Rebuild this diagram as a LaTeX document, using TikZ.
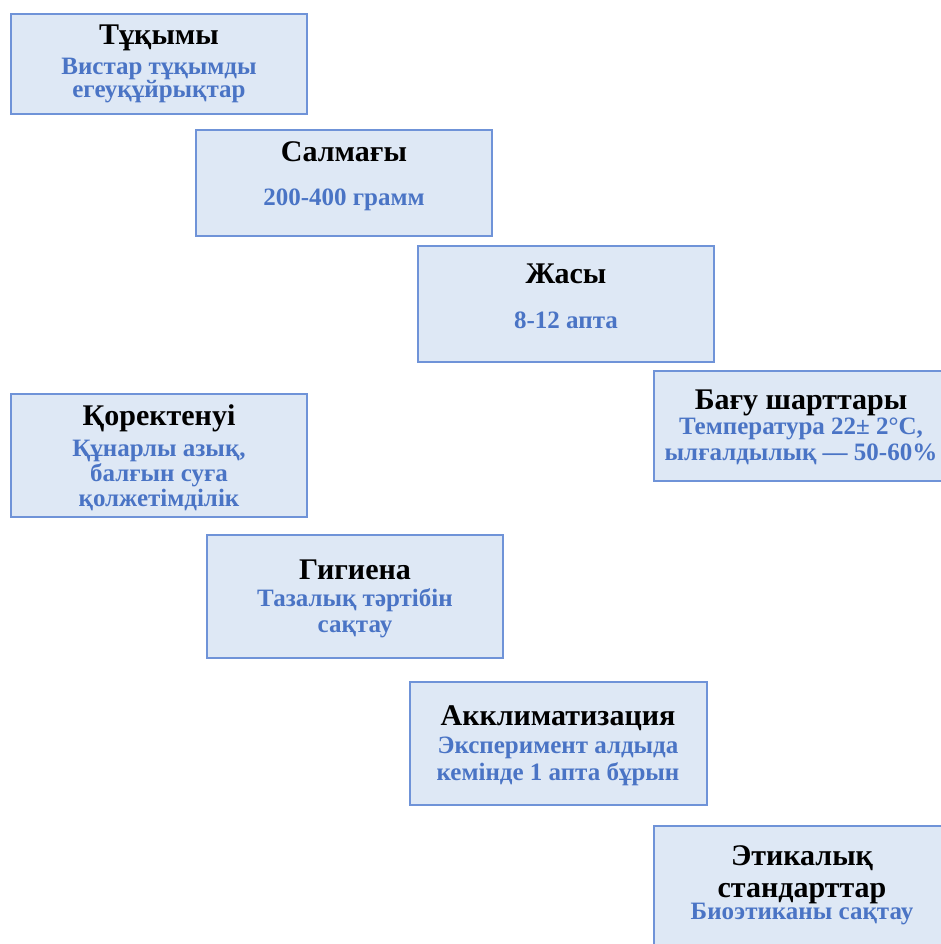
\documentclass[tikz,border=0pt]{standalone}
\usepackage{fontspec}
\setmainfont{Liberation Serif}
\definecolor{boxfill}{HTML}{DEE8F5}
\definecolor{boxline}{HTML}{6F93D8}
\definecolor{subblue}{HTML}{4A74C5}
\begin{document}
\begin{tikzpicture}[x=1pt,y=-1pt,
  card/.style={draw=boxline, fill=boxfill, line width=1.3pt, inner sep=0pt, outer sep=0pt},
  ttl/.style={anchor=base, font=\bfseries\fontsize{30}{#1}\selectfont, text=black, align=center, inner sep=0pt},
  ttl/.default=32,
  sub/.style={anchor=base, font=\bfseries\fontsize{25}{#1}\selectfont, text=subblue, align=center, inner sep=0pt},
  sub/.default=26]
\path[use as bounding box] (0,0) rectangle (941,944);
\clip (0,0) rectangle (941,944);
\fill[white] (0,0) rectangle (941,944);
% boxes
\node[card, minimum width=296pt, minimum height=100pt] (b1) at (159,64) {};
\node[card, minimum width=296pt, minimum height=106pt] (b2) at (344,183) {};
\node[card, minimum width=296pt, minimum height=116pt] (b3) at (566,304) {};
\node[card, minimum width=296pt, minimum height=110pt] (b4) at (802,426) {};
\node[card, minimum width=296pt, minimum height=123pt] (b5) at (159,455.5) {};
\node[card, minimum width=296pt, minimum height=123pt] (b6) at (355,596.5) {};
\node[card, minimum width=297pt, minimum height=123pt] (b7) at (558.5,743.5) {};
\node[card, minimum width=296pt, minimum height=134pt] (b8) at (802,893) {};
% texts (anchor base = baseline of the last line)
\node[ttl] (t1) at (159,45) {Тұқымы};
\node[sub=21] (s1) at (159,98) {Вистар тұқымды\\егеуқұйрықтар};
\node[ttl] (t2) at (344,161) {Салмағы};
\node[sub] (s2) at (344,205) {200-400 грамм};
\node[ttl] (t3) at (566,283) {Жасы};
\node[sub] (s3) at (566,328) {8-12 апта};
\node[ttl] (t4) at (801,409) {Бағу шарттары};
\node[sub=26] (s4) at (801,460) {Температура 22± 2°C,\\ылғалдылық — 50-60\%};
\node[ttl] (t5) at (159,425) {Қоректенуі};
\node[sub=25] (s5) at (159,506) {Құнарлы азық,\\балғын суға\\қолжетімділік};
\node[ttl] (t6) at (355,579) {Гигиена};
\node[sub=26] (s6) at (355,632) {Тазалық тәртібін\\сақтау};
\node[ttl] (t7) at (558,725) {Акклиматизация};
\node[sub=27] (s7) at (558,780) {Эксперимент алдыда\\кемінде 1 апта бұрын};
\node[ttl=32] (t8) at (802,897) {Этикалық\\стандарттар};
\node[sub] (s8) at (802,919) {Биоэтиканы сақтау};
\end{tikzpicture}
\end{document}
